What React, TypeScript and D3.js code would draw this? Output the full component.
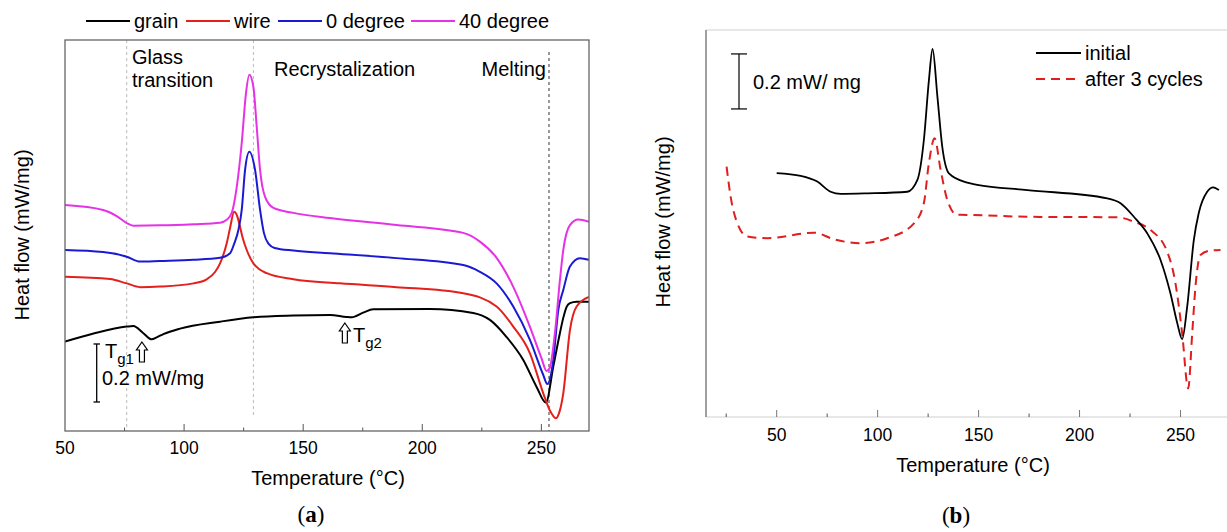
import React from 'react';
import * as d3 from 'd3';

type Pt = [number, number];

// ---------- Panel (a): DSC curves, temperature (°C) vs heat flow (mW/mg, offset) ----------
const grain: Pt[] = [
  [50, 0.308], [62, 0.336], [75.9, 0.36], [78.7, 0.362], [82.9, 0.337], [86.4, 0.316], [88.5, 0.323],
  [91.3, 0.334], [98.3, 0.353], [115.1, 0.377], [129.1, 0.392], [145.9, 0.398], [161.3, 0.4],
  [168.2, 0.393], [170.3, 0.392], [175.2, 0.408], [179.4, 0.42], [203.2, 0.421], [221.4, 0.407],
  [228.4, 0.383], [235.4, 0.324], [242.4, 0.245], [248, 0.152], [251.9, 0.098], [255, 0.222],
  [257.8, 0.338], [259.2, 0.39], [260.6, 0.428], [262, 0.441], [264.8, 0.446], [270, 0.446],
];
const wire: Pt[] = [
  [50, 0.532], [68.9, 0.524], [75.9, 0.509], [81.5, 0.496], [89.9, 0.498], [103.9, 0.509],
  [109.5, 0.523], [113, 0.548], [115.1, 0.578], [117.9, 0.647], [119.3, 0.7], [121, 0.756],
  [122.3, 0.741], [123.5, 0.704], [124.5, 0.669], [126.3, 0.624], [129.1, 0.578], [134.7, 0.544],
  [145.9, 0.523], [165.4, 0.509], [189.2, 0.496], [217.2, 0.475], [231.2, 0.429], [238.2, 0.36],
  [245.2, 0.268], [250.8, 0.13], [253.5, 0.072], [256.1, 0.044], [257.8, 0.072], [259.2, 0.13],
  [262, 0.348], [264.8, 0.429], [270, 0.462],
];
const deg0: Pt[] = [
  [50, 0.624], [66, 0.617], [75.9, 0.601], [81.5, 0.584], [89.9, 0.586], [103.9, 0.59],
  [115.1, 0.597], [119.3, 0.613], [121, 0.645], [122.8, 0.693], [124.2, 0.762], [125.6, 0.9],
  [127.4, 0.963], [129.8, 0.9], [131.9, 0.762], [133.5, 0.683], [135.5, 0.645], [138, 0.631],
  [145.9, 0.622], [161.3, 0.613], [189.2, 0.596], [217.2, 0.572], [224.2, 0.549], [231.2, 0.509],
  [238.2, 0.429], [245.2, 0.314], [250.8, 0.193], [252.5, 0.162], [255, 0.245], [257.1, 0.417],
  [259.2, 0.486], [262, 0.567], [266.2, 0.596], [270, 0.59],
];
const deg40: Pt[] = [
  [50, 0.779], [66, 0.762], [71.7, 0.741], [75.9, 0.717], [78.7, 0.708], [90, 0.709],
  [103.9, 0.713], [115.1, 0.718], [117.9, 0.728], [120, 0.752], [122.1, 0.841], [124.2, 0.993],
  [126, 1.166], [127.4, 1.228], [129.1, 1.186], [130.5, 1.048], [131.9, 0.9], [134, 0.807],
  [137.5, 0.769], [145.9, 0.752], [161.3, 0.734], [189.2, 0.71], [217.2, 0.683], [224.2, 0.653],
  [231.2, 0.597], [238.2, 0.497], [245.2, 0.359], [250, 0.252], [252.2, 0.207], [253.5, 0.217],
  [255.7, 0.338], [257.8, 0.521], [259.2, 0.624], [262, 0.71], [265.5, 0.729], [270, 0.721],
];
const seriesNamesA = ['grain', 'wire', '0 degree', '40 degree'];
const seriesColorsA = ['#000000', '#e3201b', '#1a1ad2', '#e632e6'];
const xTicksA = [50, 100, 150, 200, 250];
const xMinorA = [75, 125, 175, 225];
const regionTemps = [75.9, 129.1];
const meltTemp = 253.2;

// ---------- Panel (b) ----------
const initial: Pt[] = [
  [50, 0.887], [61.9, 0.877], [70.1, 0.856], [76.7, 0.819], [81.7, 0.811], [94.9, 0.813],
  [114.7, 0.819], [119.7, 0.862], [122.9, 1.007], [125.4, 1.225], [127.2, 1.338], [129.6, 1.165],
  [132, 0.983], [135.3, 0.886], [144.4, 0.852], [149.3, 0.844], [174.1, 0.825], [213.7, 0.795],
  [220.3, 0.777], [226.9, 0.728], [233.5, 0.668], [240.1, 0.571], [245, 0.45], [248.4, 0.341],
  [250.8, 0.283], [253.3, 0.401], [256.6, 0.644], [259, 0.741], [263.2, 0.819], [266.2, 0.835],
  [269, 0.825],
];
const after3: Pt[] = [
  [25.2, 0.91], [27.2, 0.801], [30.5, 0.705], [35.5, 0.656], [45.4, 0.65], [68.5, 0.67],
  [78.4, 0.646], [91.6, 0.632], [104.8, 0.65], [118, 0.704], [122.9, 0.778], [125.4, 0.924],
  [128.2, 1.013], [131.2, 0.898], [134.5, 0.789], [139.4, 0.735], [141, 0.735], [174.1, 0.728],
  [218.7, 0.726], [226.9, 0.71], [235.1, 0.68], [243.4, 0.601], [247.5, 0.486], [250.8, 0.305],
  [253.8, 0.104], [255.8, 0.305], [257.4, 0.474], [259.9, 0.589], [264.9, 0.605], [269.8, 0.607],
];
const seriesNamesB = ['initial', 'after 3 cycles'];
const xTicksB = [50, 100, 150, 200, 250];
const xMinorB = [25, 75, 125, 175, 225];

const FONT = '"Liberation Sans", Arial, sans-serif';
const SERIF = '"Liberation Serif", "DejaVu Serif", serif';

function hollowArrow(x: number, y: number) {
  return `M${x},${y} L${x + 5.5},${y + 8} L${x + 2.5},${y + 8} L${x + 2.5},${y + 20} L${x - 2.5},${y + 20} L${x - 2.5},${y + 8} L${x - 5.5},${y + 8} Z`;
}

export default function App() {
  // panel a scales
  const xA = d3.scaleLinear().domain([50, 270]).range([65, 589]);
  const yA = d3.scaleLinear().domain([0, 1.348]).range([431, 40]);
  const lineA = d3.line<Pt>().x(d => xA(d[0])).y(d => yA(d[1])).curve(d3.curveMonotoneX);
  const dataA = [grain, wire, deg0, deg40];

  // panel b scales
  const xB = d3.scaleLinear().domain([15, 275]).range([706, 1231]);
  const yB = d3.scaleLinear().domain([0, 1.407]).range([417, 30]);
  const lineB = d3.line<Pt>().x(d => xB(d[0])).y(d => yB(d[1])).curve(d3.curveMonotoneX);

  const legendXA = [86, 186, 278, 411];

  return (
    <svg width={1227} height={532} style={{ position: 'absolute', left: 0, top: 0, background: '#fff' }}
      fontFamily={FONT}>
      <defs>
        <clipPath id="clipA"><rect x={65} y={40} width={524} height={391} /></clipPath>
        <clipPath id="clipB"><rect x={706} y={30} width={525} height={387} /></clipPath>
      </defs>

      {/* ===== Panel (a) ===== */}
      {seriesNamesA.map((n, i) => (
        <g key={n}>
          <line x1={legendXA[i]} x2={legendXA[i] + 44} y1={21} y2={21} stroke={seriesColorsA[i]} strokeWidth={2} />
          <text x={legendXA[i] + 48} y={28} fontSize={20} fill="#000">{n}</text>
        </g>
      ))}
      {regionTemps.map((t, i) => (
        <line key={t} x1={xA(t)} x2={xA(t)} y1={40} y2={i === 0 ? 431 : 415} stroke="#bbb" strokeWidth={1} strokeDasharray="3,3" />
      ))}
      <line x1={xA(meltTemp)} x2={xA(meltTemp)} y1={52} y2={431} stroke="#333" strokeWidth={1} strokeDasharray="3,3" />
      <text x={132} y={64} fontSize={20}>Glass</text>
      <text x={132} y={87} fontSize={20}>transition</text>
      <text x={274} y={76} fontSize={20}>Recrystalization</text>
      <text x={xA(meltTemp) - 3} y={76} fontSize={20} textAnchor="end">Melting</text>

      <g clipPath="url(#clipA)">
        {dataA.map((d, i) => (
          <path key={i} d={lineA(d) || ''} fill="none" stroke={seriesColorsA[i]} strokeWidth={2} strokeLinejoin="round" />
        ))}
      </g>

      {xTicksA.map(t => (
        <g key={t}>
          {t > 50 && <line x1={xA(t)} x2={xA(t)} y1={431} y2={424} stroke="#555" strokeWidth={1} />}
          <text x={xA(t)} y={454} fontSize={17.5} textAnchor="middle">{t}</text>
        </g>
      ))}
      {xMinorA.map(t => (
        <line key={t} x1={xA(t)} x2={xA(t)} y1={431} y2={427.5} stroke="#555" strokeWidth={1} />
      ))}
      <rect x={65} y={40} width={524} height={391} fill="none" stroke="#666" strokeWidth={1.3} />
      <text x={328} y={485} fontSize={20} textAnchor="middle">Temperature (°C)</text>
      <text transform={`translate(29,${235}) rotate(-90)`} fontSize={20} textAnchor="middle">Heat flow (mW/mg)</text>
      <text x={311} y={522} fontSize={23} textAnchor="middle" fontFamily={SERIF}>
        (<tspan fontWeight="bold">a</tspan>)
      </text>

      <g stroke="#000" strokeWidth={1.3}>
        <line x1={96.7} x2={96.7} y1={yA(0.1)} y2={yA(0.3)} />
        <line x1={93.5} x2={100} y1={yA(0.1)} y2={yA(0.1)} />
        <line x1={93.5} x2={100} y1={yA(0.3)} y2={yA(0.3)} />
      </g>
      <text x={102} y={385} fontSize={20}>0.2 mW/mg</text>
      <text x={105} y={358} fontSize={20}>T<tspan dy={6} fontSize={15}>g1</tspan></text>
      <path d={hollowArrow(xA(82.3), 342)} fill="#fff" stroke="#000" strokeWidth={1.2} />
      <path d={hollowArrow(xA(167.5), 323)} fill="#fff" stroke="#000" strokeWidth={1.2} />
      <text x={353} y={342} fontSize={20}>T<tspan dy={6} fontSize={15}>g2</tspan></text>

      {/* ===== Panel (b) ===== */}
      <line x1={706} x2={1227} y1={30} y2={30} stroke="#d0d0d0" strokeWidth={1} />
      <line x1={706} x2={1227} y1={417} y2={417} stroke="#cfcfcf" strokeWidth={1} />
      <line x1={706} x2={706} y1={30} y2={417} stroke="#888" strokeWidth={1.6} />
      {xTicksB.map(t => (
        <g key={t}>
          <line x1={xB(t)} x2={xB(t)} y1={417} y2={410} stroke="#777" strokeWidth={1} />
          <text x={xB(t)} y={441} fontSize={17.5} textAnchor="middle">{t}</text>
        </g>
      ))}
      {xMinorB.map(t => (
        <line key={t} x1={xB(t)} x2={xB(t)} y1={417} y2={413.5} stroke="#555" strokeWidth={1} />
      ))}
      <text x={973} y={472} fontSize={20} textAnchor="middle">Temperature (°C)</text>
      <text transform={`translate(670,${222}) rotate(-90)`} fontSize={20} textAnchor="middle">Heat flow (mW/mg)</text>
      <text x={956} y={523} fontSize={23} textAnchor="middle" fontFamily={SERIF}>
        (<tspan fontWeight="bold">b</tspan>)
      </text>

      <g clipPath="url(#clipB)">
        <path d={lineB(after3) || ''} fill="none" stroke="#df1f1f" strokeWidth={2} strokeDasharray="9,6" />
        <path d={lineB(initial) || ''} fill="none" stroke="#000" strokeWidth={1.8} strokeLinejoin="round" />
      </g>

      <g stroke="#000" strokeWidth={1.2}>
        <line x1={739} x2={739} y1={yB(1.12)} y2={yB(1.32)} />
        <line x1={731} x2={747} y1={yB(1.12)} y2={yB(1.12)} />
        <line x1={731} x2={747} y1={yB(1.32)} y2={yB(1.32)} />
      </g>
      <text x={753} y={89} fontSize={20}>0.2 mW/ mg</text>

      <line x1={1036} x2={1081} y1={53} y2={53} stroke="#000" strokeWidth={1.8} />
      <text x={1085} y={60} fontSize={20}>{seriesNamesB[0]}</text>
      <line x1={1036} x2={1081} y1={79} y2={79} stroke="#df1f1f" strokeWidth={2} strokeDasharray="9,6" />
      <text x={1085} y={86} fontSize={20}>{seriesNamesB[1]}</text>
    </svg>
  );
}
